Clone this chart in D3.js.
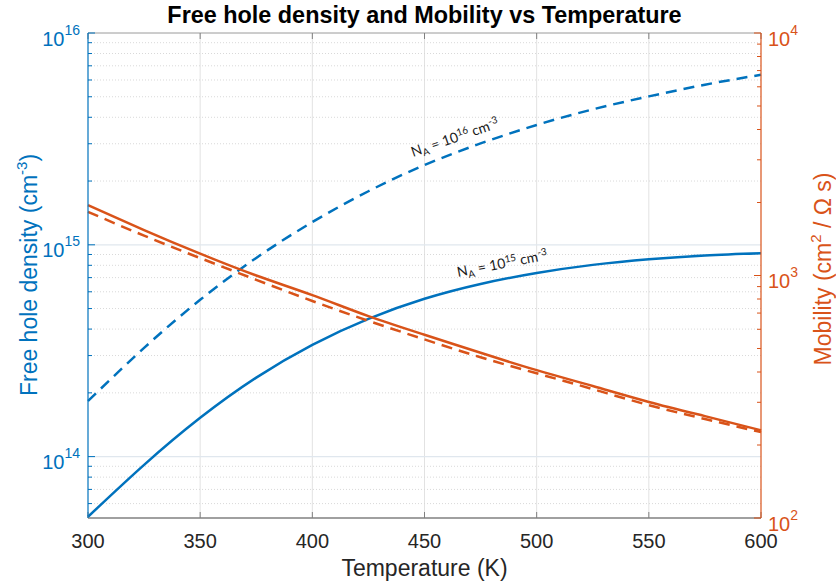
<!DOCTYPE html>
<html><head><meta charset="utf-8">
<script src="https://cdn.jsdelivr.net/npm/d3@7"></script>
<style>body{margin:0;background:#fff}</style>
</head><body>
<svg id="chart" width="836" height="587"></svg>
<script>
// ---------- data ----------
const temperatures    = [300, 325, 350, 375, 400, 425, 450, 475, 500, 525, 550, 575, 600];
const holeDensityNA15 = [5.2e13, 9.14e13, 1.524e14, 2.36e14, 3.37e14, 4.47e14, 5.56e14, 6.53e14, 7.36e14, 8.04e14, 8.55e14, 8.91e14, 9.12e14];
const holeDensityNA16 = [1.83e14, 3.26e14, 5.5e14, 8.67e14, 1.28e15, 1.79e15, 2.38e15, 3.01e15, 3.68e15, 4.36e15, 5.02e15, 5.7e15, 6.35e15];
const mobilityNA15    = [1950, 1540, 1230, 1000, 830, 680, 570, 480, 407, 350, 301, 263, 230];
const mobilityNA16    = [1830, 1460, 1180, 960, 785, 650, 545, 460, 395, 340, 292, 256, 226];
const xTicks          = [300, 350, 400, 450, 500, 550, 600];
const leftTickExps    = [14, 15, 16];
const rightTickExps   = [2, 3, 4];
const titleText  = "Free hole density and Mobility vs Temperature";
const xLabelText = "Temperature (K)";

// ---------- setup ----------
const svg = d3.select("#chart");
const L = 88, R = 761, T = 33, B = 518;
const BLUE = "#0072BD", ORANGE = "#D95319", DARK = "#262626";
const FONT = "'Liberation Sans', Arial, Helvetica, sans-serif";

const x  = d3.scaleLinear().domain([300, 600]).range([L, R]);
const yL = d3.scaleLog().domain([5.13e13, 1e16]).range([B, T]);
const yR = d3.scaleLog().domain([100, 10000]).range([B, T]);

function minorValues(scale) {
  const [a, b] = scale.domain();
  const out = [];
  for (let d = Math.floor(Math.log10(a)); d <= Math.ceil(Math.log10(b)); d++) {
    for (let m = 2; m <= 9; m++) {
      const v = m * Math.pow(10, d);
      if (v >= a && v <= b) out.push(v);
    }
  }
  return out;
}

const grid = svg.append("g");
grid.selectAll("line.vg").data(xTicks.filter(t => t > 300 && t < 600)).join("line")
  .attr("x1", d => x(d)).attr("x2", d => x(d)).attr("y1", T).attr("y2", B)
  .attr("stroke", "#e2e2e2").attr("stroke-width", 1);
grid.selectAll("line.mg").data(minorValues(yL)).join("line")
  .attr("x1", L).attr("x2", R).attr("y1", d => yL(d)).attr("y2", d => yL(d))
  .attr("stroke", "#d9d9d9").attr("stroke-width", 1).attr("stroke-dasharray", "1,2");
grid.selectAll("line.hg").data(leftTickExps.map(e => Math.pow(10, e)).filter(v => v < 1e16)).join("line")
  .attr("x1", L).attr("x2", R).attr("y1", d => yL(d)).attr("y2", d => yL(d))
  .attr("stroke", "#e0e7ee").attr("stroke-width", 1.2);

// ---------- curves ----------
const lineL = d3.line().x((d, i) => x(temperatures[i])).y(d => yL(d)).curve(d3.curveNatural);
const lineR = d3.line().x((d, i) => x(temperatures[i])).y(d => yR(d)).curve(d3.curveNatural);

const curves = svg.append("g");
curves.append("path").attr("d", lineL(holeDensityNA15)).attr("fill", "none")
  .attr("stroke", BLUE).attr("stroke-width", 2.5);
curves.append("path").attr("d", lineL(holeDensityNA16)).attr("fill", "none")
  .attr("stroke", BLUE).attr("stroke-width", 2.5).attr("stroke-dasharray", "11,7");
curves.append("path").attr("d", lineR(mobilityNA15)).attr("fill", "none")
  .attr("stroke", ORANGE).attr("stroke-width", 2.5);
curves.append("path").attr("d", lineR(mobilityNA16)).attr("fill", "none")
  .attr("stroke", ORANGE).attr("stroke-width", 2.5).attr("stroke-dasharray", "11,7");

// ---------- axes ----------
const ax = svg.append("g");
ax.append("line").attr("x1", L).attr("x2", R).attr("y1", B).attr("y2", B).attr("stroke", "#808080").attr("stroke-width", 1.5);
ax.append("line").attr("x1", L).attr("x2", R).attr("y1", T).attr("y2", T).attr("stroke", "#9a9a9a").attr("stroke-width", 1);
ax.selectAll("line.xtb").data(xTicks).join("line")
  .attr("x1", d => x(d)).attr("x2", d => x(d)).attr("y1", B).attr("y2", B - 6).attr("stroke", "#808080");
ax.selectAll("line.xtt").data(xTicks).join("line")
  .attr("x1", d => x(d)).attr("x2", d => x(d)).attr("y1", T).attr("y2", T + 6).attr("stroke", "#808080");
ax.selectAll("text.xt").data(xTicks).join("text")
  .attr("x", d => x(d)).attr("y", 548).attr("text-anchor", "middle")
  .attr("font-family", FONT).attr("font-size", 20).attr("fill", DARK).text(d => d);

// left axis
ax.append("line").attr("x1", L).attr("x2", L).attr("y1", T).attr("y2", B).attr("stroke", BLUE).attr("stroke-width", 1.2);
ax.selectAll("line.ylm").data(minorValues(yL)).join("line")
  .attr("x1", L).attr("x2", L + 4).attr("y1", d => yL(d)).attr("y2", d => yL(d)).attr("stroke", BLUE);
ax.selectAll("line.ylM").data(leftTickExps).join("line")
  .attr("x1", L).attr("x2", L + 7).attr("y1", d => yL(Math.pow(10, d))).attr("y2", d => yL(Math.pow(10, d))).attr("stroke", BLUE);
const ltl = ax.selectAll("text.yl").data(leftTickExps).join("text")
  .attr("x", 80).attr("y", d => yL(Math.pow(10, d)) + 12.5).attr("text-anchor", "end")
  .attr("font-family", FONT).attr("font-size", 20).attr("fill", BLUE);
ltl.append("tspan").text("10");
ltl.append("tspan").attr("dy", -11).attr("font-size", 14).text(d => d);

// right axis
ax.append("line").attr("x1", R).attr("x2", R).attr("y1", T).attr("y2", B).attr("stroke", ORANGE).attr("stroke-width", 1.2);
ax.selectAll("line.yrm").data(minorValues(yR)).join("line")
  .attr("x1", R).attr("x2", R - 4).attr("y1", d => yR(d)).attr("y2", d => yR(d)).attr("stroke", ORANGE);
ax.selectAll("line.yrM").data(rightTickExps).join("line")
  .attr("x1", R).attr("x2", R - 7).attr("y1", d => yR(Math.pow(10, d))).attr("y2", d => yR(Math.pow(10, d))).attr("stroke", ORANGE);
const rtl = ax.selectAll("text.yr").data(rightTickExps).join("text")
  .attr("x", 768).attr("y", d => yR(Math.pow(10, d)) + 12.5).attr("text-anchor", "start")
  .attr("font-family", FONT).attr("font-size", 20).attr("fill", ORANGE);
rtl.append("tspan").text("10");
rtl.append("tspan").attr("dy", -11).attr("font-size", 14).text(d => d);

// ---------- labels ----------
svg.append("text").attr("x", (L + R) / 2).attr("y", 23).attr("text-anchor", "middle")
  .attr("font-family", FONT).attr("font-size", 23.4).attr("font-weight", "bold").attr("fill", "#000").text(titleText);
svg.append("text").attr("x", (L + R) / 2).attr("y", 576).attr("text-anchor", "middle")
  .attr("font-family", FONT).attr("font-size", 23).attr("fill", DARK).text(xLabelText);

const yl = svg.append("text").attr("transform", "translate(37,275) rotate(-90)").attr("text-anchor", "middle")
  .attr("font-family", FONT).attr("font-size", 23).attr("fill", BLUE);
yl.append("tspan").text("Free hole density (cm");
yl.append("tspan").attr("dy", -10).attr("font-size", 15).text("-3");
yl.append("tspan").attr("dy", 10).text(")");

const yr = svg.append("text").attr("transform", "translate(831,269) rotate(-90)").attr("text-anchor", "middle")
  .attr("font-family", FONT).attr("font-size", 23).attr("fill", ORANGE);
yr.append("tspan").text("Mobility (cm");
yr.append("tspan").attr("dy", -10).attr("font-size", 15).text("2");
yr.append("tspan").attr("dy", 10).text(" /  \u03A9  s)");

// ---------- annotations ----------
function annotate(px, py, ang, exp) {
  const t = svg.append("text").attr("transform", `translate(${px},${py}) rotate(${ang})`)
    .attr("font-family", "Lato, 'Open Sans', sans-serif").attr("font-size", 14).attr("fill", "#1a1a1a");
  t.append("tspan").text("N");
  t.append("tspan").attr("dy", 3).attr("font-size", 10).text("A");
  t.append("tspan").attr("dy", -3).attr("font-size", 14).text(" = 10");
  t.append("tspan").attr("dy", -5).attr("font-size", 10).text(exp);
  t.append("tspan").attr("dy", 5).attr("font-size", 14).text(" cm");
  t.append("tspan").attr("dy", -5).attr("font-size", 10).text("-3");
}
annotate(413, 157, -19, "16");
annotate(458, 277, -11, "15");
</script>
</body></html>
